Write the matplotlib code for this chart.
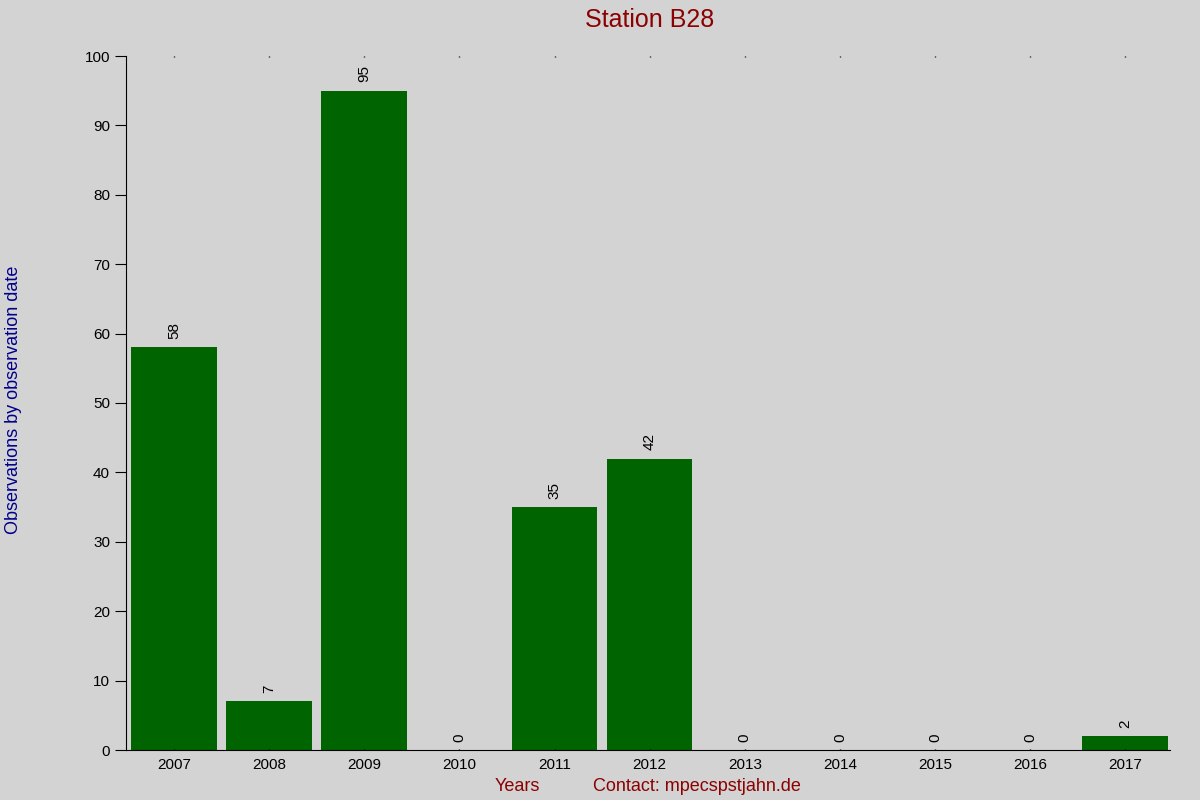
import numpy as np
import matplotlib.pyplot as plt

years = [2007, 2008, 2009, 2010, 2011, 2012, 2013, 2014, 2015, 2016, 2017]
counts = [58, 7, 95, 0, 35, 42, 0, 0, 0, 0, 2]

plt.rcParams['font.family'] = ['Liberation Sans', 'DejaVu Sans']

fig = plt.figure(figsize=(12, 8), dpi=100, facecolor='#d3d3d3')
ax = fig.add_axes([0.105, 0.0625, 0.870, 0.8675])
ax.set_facecolor('#d3d3d3')

ax.bar(years, counts, width=0.9, color='#006400')
for x, v in zip(years, counts):
    ax.text(x, v + 1.2, str(v), rotation=90, ha='center', va='bottom', fontsize=11)

ax.set_xlim(years[0] - 0.505, years[-1] + 0.47)
ax.set_ylim(0, 100)
ax.set_yticks(np.arange(0, 101, 10))
ax.set_xticks(years)
ax.tick_params(axis='x', length=0, labelsize=11, pad=6)
ax.tick_params(axis='y', length=8, labelsize=11, direction='out')
ax.tick_params(axis='x', top=True, length=1, width=1, direction='in')
for s in ['top', 'right']:
    ax.spines[s].set_visible(False)

fig.text(0.541, 0.975, 'Station B28', color='#8b0000', fontsize=18, ha='center', va='center')
fig.text(0.011, 0.5, 'Observations by observation date', color='#00008b', fontsize=13,
         rotation=90, ha='center', va='center')
fig.text(0.431, 0.017, 'Years', color='#8b0000', fontsize=13, ha='center', va='center')
fig.text(0.581, 0.017, 'Contact: mpecspstjahn.de', color='#8b0000', fontsize=13,
         ha='center', va='center')

fig.savefig('out.png', dpi=100, facecolor=fig.get_facecolor())
